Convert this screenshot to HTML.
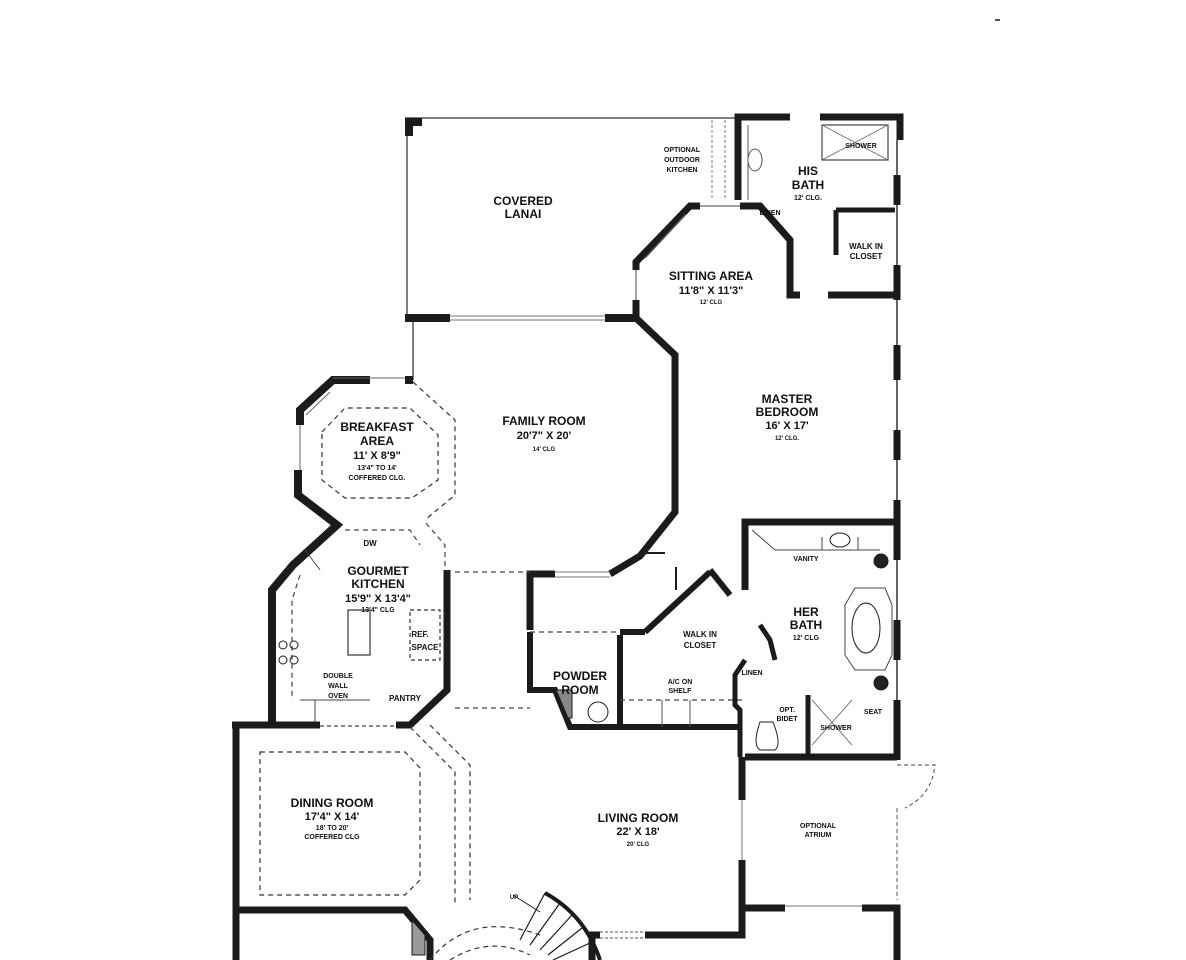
<!DOCTYPE html>
<html><head><meta charset="utf-8"><style>
html,body{margin:0;padding:0;background:#fff;}
svg{display:block;}
text{font-family:"Liberation Sans",Arial,sans-serif;font-weight:bold;fill:#111;text-anchor:middle;}
</style></head><body>
<svg width="1186" height="960" viewBox="0 0 1186 960" xmlns="http://www.w3.org/2000/svg">
<rect width="1186" height="960" fill="#fff"/>
<g fill="none" stroke="#1b1b1b" stroke-linejoin="miter">
<!-- lanai thin outline -->
<path d="M405 118 H738 M407 118 V318 M413 322 V380" stroke-width="1.5" stroke="#555"/>
<path d="M405 122 H422 M409 118 V136" stroke-width="8"/>
<!-- lanai bottom wall -->
<path d="M405 318 H450 M605 318 H636" stroke-width="8"/>
<path d="M450 316 H605 M450 320 H605" stroke-width="1" stroke="#777"/>
<!-- master outer top/right -->
<path d="M738 200 V117 H790 M820 117 H900 V140" stroke-width="7"/>
<path d="M897 140 V500 M897 560 V760" stroke-width="2" stroke="#666"/>
<path d="M897 175 V205 M897 265 V300 M897 345 V380 M897 430 V460 M897 500 V560 M897 620 V660 M897 700 V760" stroke-width="7"/>
<!-- sitting area -->
<path d="M636 318 V300 M636 270 V262 L690 206 H700 M740 206 H760 L790 240 V295 H800 M828 295 H897" stroke-width="7"/>
<path d="M636 300 V270 M700 206 H740" stroke-width="1.2" stroke="#666"/>
<path d="M645 258 L686 214" stroke-width="1.5" stroke="#555"/>
<!-- his bath inner -->
<path d="M836 210 H895 M836 210 V255" stroke-width="5"/>
<path d="M760 208 L790 238" stroke-width="4"/>
<rect x="822" y="125" width="66" height="35" stroke-width="1.2" stroke="#444"/>
<path d="M822 125 L888 160 M888 125 L822 160" stroke-width="0.8" stroke="#666"/>
<ellipse cx="755" cy="160" rx="7" ry="11" stroke-width="1" stroke="#555"/>
<path d="M748 125 V200" stroke-width="1" stroke="#555"/>
<path d="M712 120 V200 M725 120 V200" stroke-width="1" stroke="#777" stroke-dasharray="3 2"/>
<!-- family right wall -->
<path d="M636 318 L675 355 V512 L640 556 L610 574 M555 574 H530 V630" stroke-width="7"/>
<path d="M555 572 H610 M555 577 H610" stroke-width="1" stroke="#777"/>
<path d="M640 553 H665 M676 567 V590" stroke-width="2"/>
<!-- breakfast -->
<path d="M413 380 H405 M370 380 H333 L300 410 V425 M298 470 V495 L337 525 L293 565 L272 590 V725" stroke-width="8"/>
<path d="M333 378 H405 M300 425 V470" stroke-width="1" stroke="#666"/>
<path d="M306 415 L330 392" stroke-width="1" stroke="#666"/>
<path d="M413 382 L455 420 V495 L425 520 M322 432 L345 408 H410 L438 435 V480 L412 498 H345 L322 480 Z" stroke-width="1.2" stroke="#333" stroke-dasharray="5 4"/>
<!-- kitchen -->
<path d="M345 530 H410 L420 545 M300 575 L292 600 V700 M445 575 V545 L425 522" stroke-width="1.2" stroke="#444" stroke-dasharray="5 4"/>
<path d="M447 570 V690 L410 725 H396 M320 725 H232" stroke-width="7"/>
<path d="M320 726 H395" stroke-width="1.2" stroke="#444" stroke-dasharray="4 3"/>
<rect x="348" y="610" width="22" height="45" stroke-width="1.2" stroke="#333"/>
<rect x="410" y="610" width="30" height="50" stroke-width="1.2" stroke="#333" stroke-dasharray="4 3"/>
<path d="M300 700 H370 M305 550 L320 570 M315 700 V722" stroke-width="1" stroke="#444"/>
<circle cx="283" cy="645" r="4" stroke-width="1"/><circle cx="294" cy="645" r="4" stroke-width="1"/>
<circle cx="283" cy="660" r="4" stroke-width="1"/><circle cx="294" cy="660" r="4" stroke-width="1"/>
<path d="M455 572 H530 M455 708 H530" stroke-width="1.2" stroke="#444" stroke-dasharray="5 4"/>
<!-- dining -->
<path d="M236 727 V960 M236 910 H405 L430 940 V960" stroke-width="7"/>
<path d="M260 752 H405 L420 768 V880 L405 895 H260 Z" stroke-width="1.2" stroke="#333" stroke-dasharray="5 4"/>
<path d="M410 727 L455 772 V905 M430 725 L470 765 V900" stroke-width="1.2" stroke="#333" stroke-dasharray="5 4"/>
<path d="M405 912 L425 935 V955 H412 V920 Z" fill="#999" stroke-width="1"/>
<!-- powder room -->
<path d="M530 632 V690 H555 L570 727 H742 M620 635 V727 M645 632 H620 M645 632 L710 572 M710 570 L730 595" stroke-width="6"/>
<path d="M556 690 L568 718 H572 V690 Z" fill="#888" stroke-width="1"/>
<circle cx="598" cy="712" r="10" stroke-width="1"/>
<path d="M620 700 H742 M530 632 H620" stroke-width="1.2" stroke="#444" stroke-dasharray="5 4"/>
<!-- her bath -->
<path d="M745 590 V522 H897 M745 560 V540" stroke-width="7"/>
<path d="M752 530 L775 550 H880 M858 537 V550 M822 537 V550" stroke-width="1" stroke="#444"/>
<ellipse cx="840" cy="540" rx="10" ry="7" stroke-width="1"/>
<path d="M855 588 L845 605 V655 L855 670 H885 L892 655 V605 L885 588 Z" stroke-width="1" stroke="#444"/>
<ellipse cx="866" cy="628" rx="14" ry="25" stroke-width="1"/>
<circle cx="881" cy="561" r="7" fill="#222"/><circle cx="881" cy="683" r="7" fill="#222"/>
<path d="M760 625 L770 640 L775 660 M745 660 L735 675 V705 L740 710 V757 M808 695 V757" stroke-width="5"/>
<path d="M745 757 H897 M742 757 V800 M742 860 V908 H785 M862 908 H897 V960" stroke-width="7"/>
<path d="M742 800 V860 M785 906 H862" stroke-width="1" stroke="#777"/>
<path d="M662 700 V727 M690 700 V727" stroke-width="1" stroke="#555"/>
<path d="M812 700 L852 745 M852 700 L812 745" stroke-width="0.8" stroke="#555"/>
<path d="M760 722 Q752 745 760 750 H775 Q782 745 773 722 Z" stroke-width="1"/>
<!-- atrium door -->
<path d="M897 765 H935 Q932 795 905 808" stroke-width="1" stroke="#444" stroke-dasharray="4 3"/>
<path d="M897 808 V900" stroke-width="1" stroke="#555" stroke-dasharray="4 3"/>
<!-- living bottom -->
<path d="M742 905 V935 H645 M600 935 H592 V960" stroke-width="7"/>
<path d="M600 932 H645 M600 938 H645" stroke-width="1" stroke="#555" stroke-dasharray="3 2"/>
<!-- stairs -->
<path d="M545 893 Q585 915 600 960" stroke-width="4"/>
<path d="M545 893 L520 940 M560 903 L530 945 M572 915 L540 950 M582 928 L548 955 M590 943 L553 960" stroke-width="1.2"/>
<path d="M430 960 Q470 910 540 935 M450 960 Q490 935 530 955" stroke-width="1.2" stroke="#333" stroke-dasharray="5 4"/>
<path d="M513 895 L540 912" stroke-width="1"/>
<path d="M995 20 h5" stroke-width="1.5"/>
</g>
<g>
<text x="523" y="205" font-size="12">COVERED</text>
<text x="523" y="218" font-size="12">LANAI</text>
<text x="682" y="152" font-size="7">OPTIONAL</text>
<text x="682" y="162" font-size="7">OUTDOOR</text>
<text x="682" y="172" font-size="7">KITCHEN</text>
<text x="808" y="175" font-size="12">HIS</text>
<text x="808" y="189" font-size="12">BATH</text>
<text x="808" y="200" font-size="7">12' CLG.</text>
<text x="861" y="148" font-size="7">SHOWER</text>
<text x="770" y="215" font-size="7">LINEN</text>
<text x="866" y="249" font-size="8">WALK IN</text>
<text x="866" y="259" font-size="8">CLOSET</text>
<text x="711" y="280" font-size="12">SITTING AREA</text>
<text x="711" y="294" font-size="11">11'8" X 11'3"</text>
<text x="711" y="304" font-size="6">12' CLG</text>
<text x="787" y="403" font-size="12">MASTER</text>
<text x="787" y="416" font-size="12">BEDROOM</text>
<text x="787" y="429" font-size="11">16' X 17'</text>
<text x="787" y="440" font-size="6">12' CLG.</text>
<text x="544" y="425" font-size="12">FAMILY ROOM</text>
<text x="544" y="439" font-size="11">20'7" X 20'</text>
<text x="544" y="451" font-size="6">14' CLG</text>
<text x="377" y="431" font-size="12">BREAKFAST</text>
<text x="377" y="445" font-size="12">AREA</text>
<text x="377" y="459" font-size="11">11' X 8'9"</text>
<text x="377" y="470" font-size="7">13'4" TO 14'</text>
<text x="377" y="480" font-size="7">COFFERED CLG.</text>
<text x="370" y="546" font-size="8">DW</text>
<text x="378" y="575" font-size="12">GOURMET</text>
<text x="378" y="588" font-size="12">KITCHEN</text>
<text x="378" y="602" font-size="11">15'9" X 13'4"</text>
<text x="378" y="612" font-size="7">13'4" CLG</text>
<text x="420" y="637" font-size="8">REF.</text>
<text x="425" y="650" font-size="8">SPACE</text>
<text x="338" y="678" font-size="7">DOUBLE</text>
<text x="338" y="688" font-size="7">WALL</text>
<text x="338" y="698" font-size="7">OVEN</text>
<text x="405" y="701" font-size="8">PANTRY</text>
<text x="580" y="680" font-size="12">POWDER</text>
<text x="580" y="694" font-size="12">ROOM</text>
<text x="700" y="637" font-size="8">WALK IN</text>
<text x="700" y="648" font-size="8">CLOSET</text>
<text x="680" y="684" font-size="7">A/C ON</text>
<text x="680" y="693" font-size="7">SHELF</text>
<text x="806" y="561" font-size="7">VANITY</text>
<text x="806" y="616" font-size="12">HER</text>
<text x="806" y="629" font-size="12">BATH</text>
<text x="806" y="640" font-size="7">12' CLG</text>
<text x="752" y="675" font-size="7">LINEN</text>
<text x="787" y="712" font-size="7">OPT.</text>
<text x="787" y="721" font-size="7">BIDET</text>
<text x="836" y="730" font-size="7">SHOWER</text>
<text x="873" y="714" font-size="7">SEAT</text>
<text x="332" y="807" font-size="12">DINING ROOM</text>
<text x="332" y="820" font-size="11">17'4" X 14'</text>
<text x="332" y="830" font-size="7">18' TO 20'</text>
<text x="332" y="839" font-size="7">COFFERED CLG</text>
<text x="638" y="822" font-size="12">LIVING ROOM</text>
<text x="638" y="835" font-size="11">22' X 18'</text>
<text x="638" y="846" font-size="6">20' CLG</text>
<text x="818" y="828" font-size="7">OPTIONAL</text>
<text x="818" y="837" font-size="7">ATRIUM</text>
<text x="514" y="899" font-size="6">UP</text>
</g>
</svg>
</body></html>
